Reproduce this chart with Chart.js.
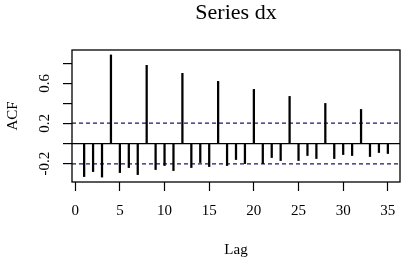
<!DOCTYPE html>
<html>
<head>
  <title>Series dx</title>
  <style>
    body { margin: 0; background: #fff; }
    #wrap { width: 401px; height: 259px; }
  </style>
  <script src="https://cdn.jsdelivr.net/npm/chart.js"></script>
</head>
<body>
  <div id="wrap"><canvas id="acf-chart" width="401" height="259"></canvas></div>
  <script>
    // autocorrelation of dx
    const lags = [1, 2, 3, 4, 5, 6, 7, 8, 9, 10, 11, 12, 13, 14, 15, 16, 17, 18,
                  19, 20, 21, 22, 23, 24, 25, 26, 27, 28, 29, 30, 31, 32, 33, 34, 35];
    const acfValues = [-0.33, -0.28, -0.335, 0.884, -0.29, -0.24, -0.31, 0.78, -0.26, -0.22,
                       -0.27, 0.70, -0.24, -0.19, -0.23, 0.62, -0.22, -0.16, -0.20, 0.54,
                       -0.20, -0.14, -0.17, 0.47, -0.17, -0.12, -0.15, 0.40, -0.15, -0.11,
                       -0.12, 0.34, -0.13, -0.09, -0.10];
    const ciBound = 0.203;
    const xTicks = [0, 5, 10, 15, 20, 25, 30, 35];
    const yTicks = [-0.2, 0, 0.2, 0.4, 0.6, 0.8];
    const yTickLabels = ['-0.2', '0.2', '0.6'];   // R only prints every other label
    const xRange = [-0.36, 36.36];
    const yRange = [-0.384, 0.933];

    const serif = '"Liberation Serif", "DejaVu Serif", serif';

    // box around plot region + rotated y tick labels (R style)
    const rBox = {
      id: 'rBox',
      afterDraw(chart) {
        const {ctx, chartArea: a} = chart;
        const y = chart.scales.y;
        ctx.save();
        ctx.strokeStyle = '#000';
        ctx.lineWidth = 1.3;
        ctx.strokeRect(a.left, a.top, a.right - a.left, a.bottom - a.top);
        ctx.fillStyle = '#000';
        ctx.font = '15px ' + serif;
        ctx.textAlign = 'center';
        ctx.textBaseline = 'middle';
        yTickLabels.forEach(t => {
          ctx.save();
          ctx.translate(45, y.getPixelForValue(parseFloat(t)));
          ctx.rotate(-Math.PI / 2);
          ctx.fillText(t, 0, 0);
          ctx.restore();
        });
        ctx.restore();
      }
    };

    const ciLine = (v) => ({
      type: 'line',
      data: [{x: xRange[0], y: v}, {x: xRange[1], y: v}],
      borderColor: '#18186e',
      borderWidth: 1.3,
      borderDash: [4, 3],
      pointRadius: 0,
      fill: false
    });

    new Chart(document.getElementById('acf-chart'), {
      type: 'bar',
      data: {
        datasets: [
          {
            label: 'ACF',
            data: lags.map((l, i) => ({x: l, y: acfValues[i]})),
            backgroundColor: '#000',
            barThickness: 1.6
          },
          ciLine(ciBound),
          ciLine(-ciBound)
        ]
      },
      options: {
        responsive: false,
        animation: false,
        layout: { padding: { right: 1 } },
        plugins: {
          legend: { display: false },
          tooltip: { enabled: false },
          title: {
            display: true,
            text: 'Series dx',
            fullSize: false,
            color: '#000',
            font: { family: serif, size: 22, weight: 'normal' },
            padding: { top: 0, bottom: 23.6 }
          }
        },
        scales: {
          x: {
            type: 'linear',
            offset: false,
            min: xRange[0],
            max: xRange[1],
            afterBuildTicks: s => { s.ticks = xTicks.map(v => ({value: v})); },
            afterFit: s => { s.height = 77; s.paddingLeft = 0; s.paddingRight = 0; },
            grid: { display: true, drawOnChartArea: false, offset: false,
                    tickLength: 9, tickColor: '#000', tickWidth: 1.2 },
            border: { display: false },
            ticks: { color: '#000', padding: 11, maxRotation: 0,
                     font: { family: serif, size: 15 } },
            title: { display: true, text: 'Lag', color: '#000',
                     font: { family: serif, size: 15 }, padding: { top: 0, bottom: 0 } }
          },
          y: {
            min: yRange[0],
            max: yRange[1],
            afterBuildTicks: s => { s.ticks = yTicks.map(v => ({value: v})); },
            afterFit: s => { s.width = 72; s.paddingTop = 0; s.paddingBottom = 0; },
            grid: {
              drawOnChartArea: true,
              color: c => (c.tick && c.tick.value === 0) ? '#000' : 'rgba(0,0,0,0)',
              lineWidth: 1.2,
              tickLength: 9, tickColor: '#000', tickWidth: 1.2
            },
            border: { display: false },
            ticks: { display: false },
            title: { display: true, text: 'ACF', color: '#000',
                     font: { family: serif, size: 15 }, padding: { top: 4, bottom: 0 } }
          }
        }
      },
      plugins: [rBox]
    });
  </script>
</body>
</html>
